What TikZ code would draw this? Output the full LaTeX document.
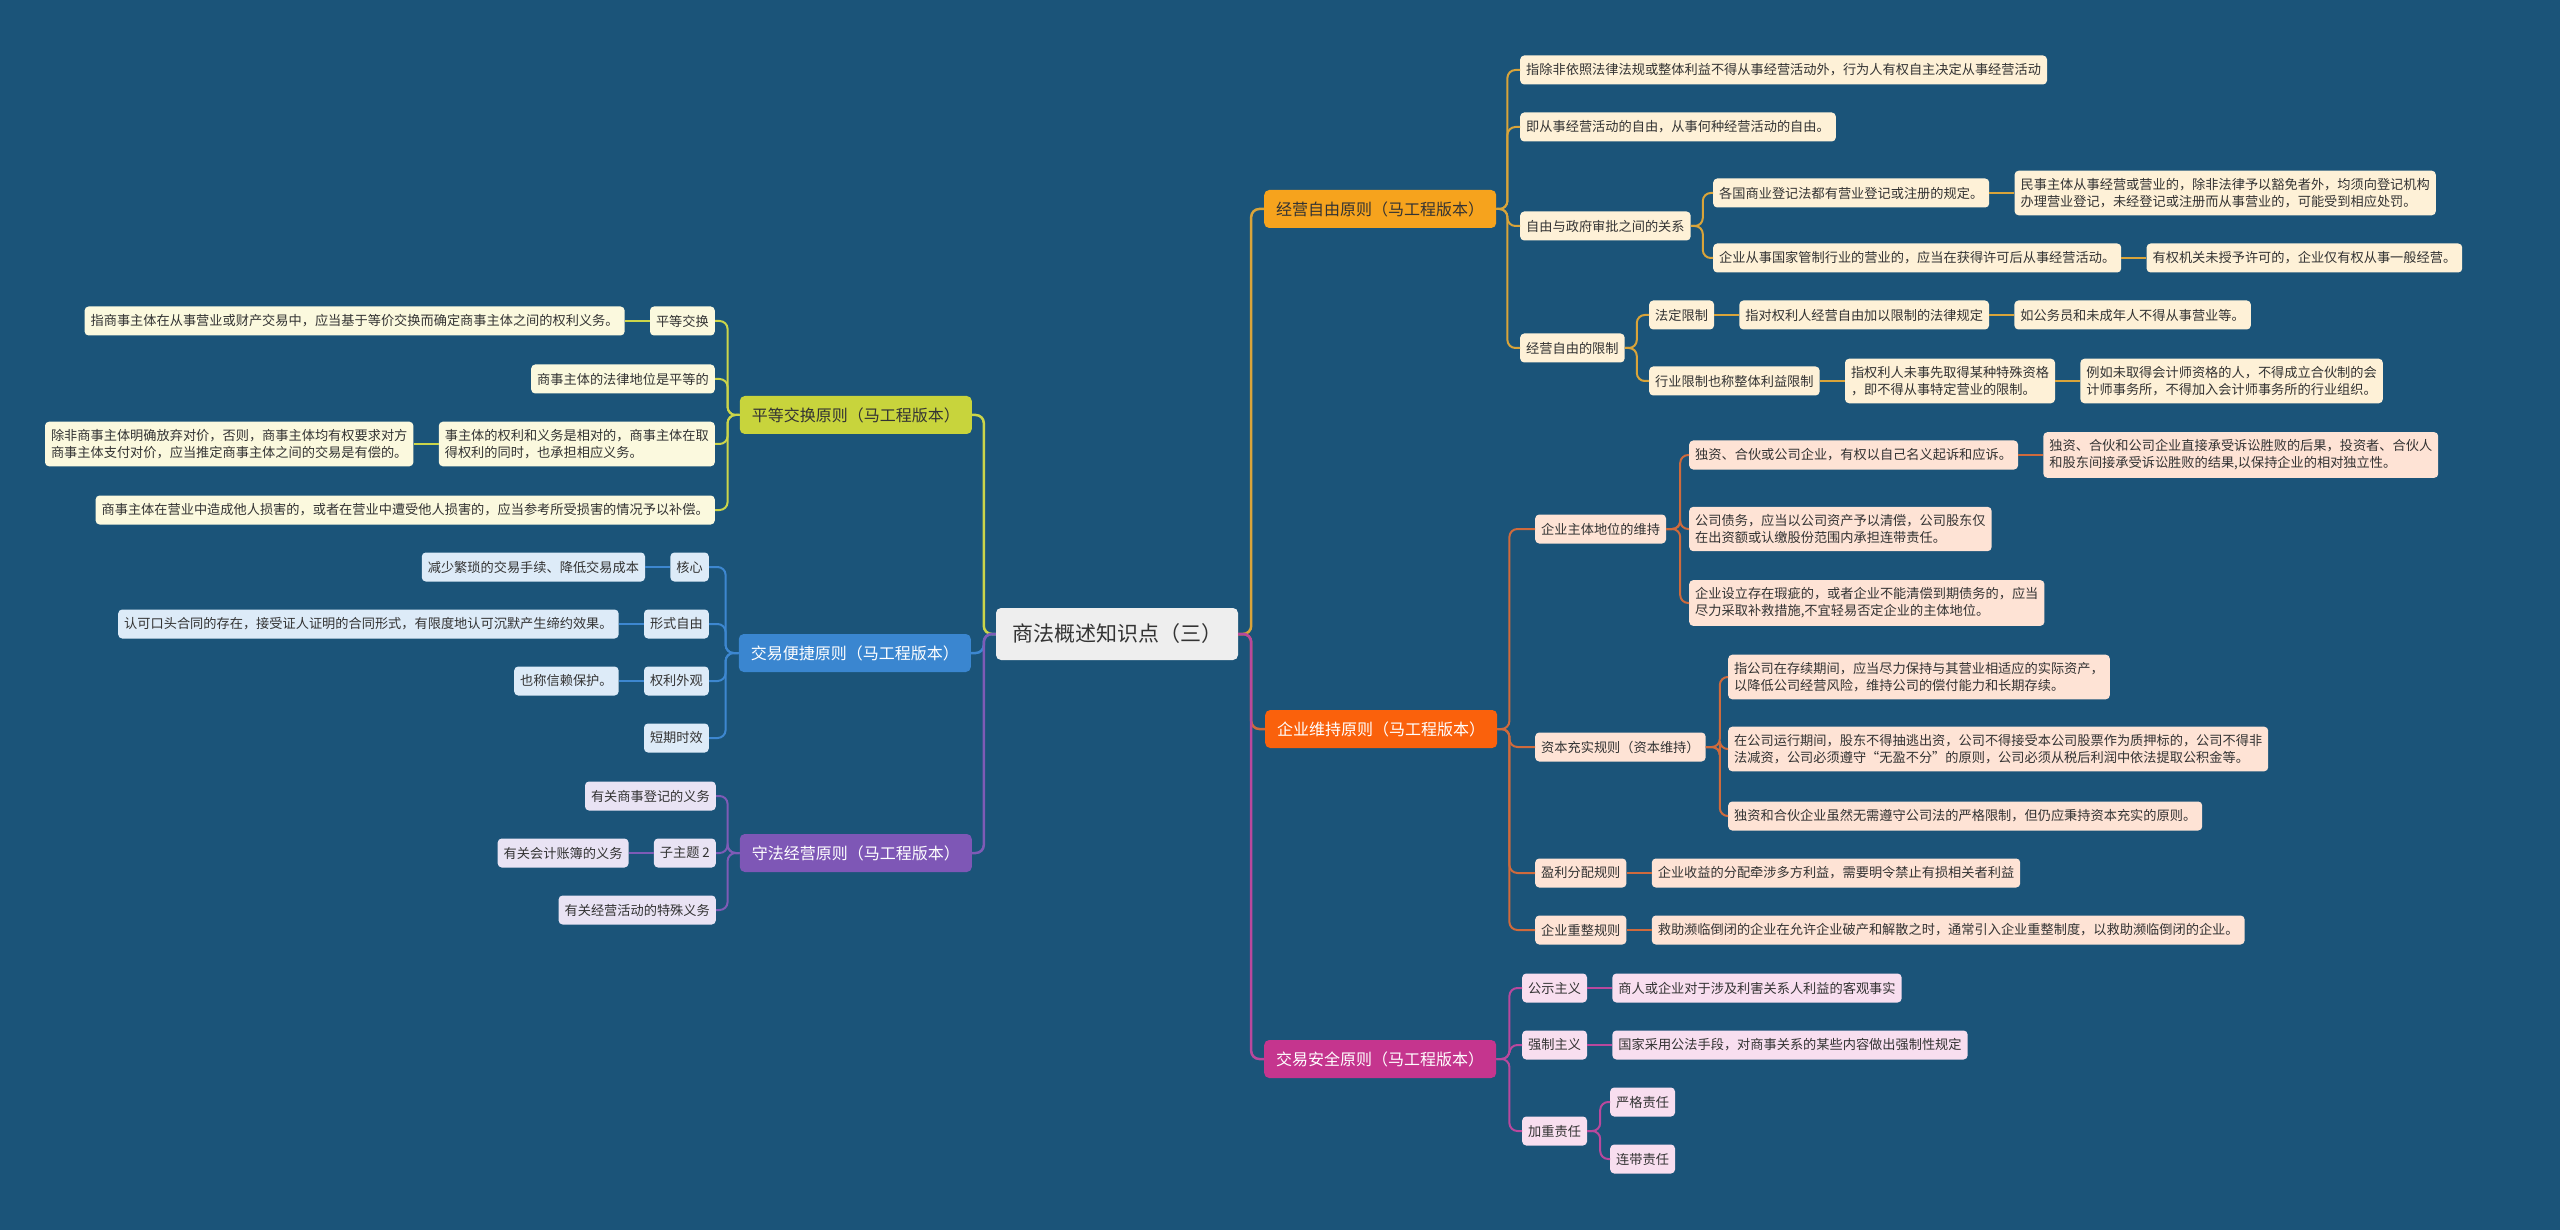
\documentclass[tikz,border=0pt]{standalone}
\usepackage{fontspec}
\setmainfont{Noto Sans CJK SC}
\usetikzlibrary{positioning}

\definecolor{bg}{HTML}{1B5479}
\definecolor{rootfill}{HTML}{EEEEEE}
\definecolor{txt}{HTML}{333333}
\definecolor{pdC}{HTML}{C8D43C}\definecolor{pdL}{HTML}{FBF9DE}\definecolor{pdE}{HTML}{CBD54A}
\definecolor{jbC}{HTML}{3A86D0}\definecolor{jbL}{HTML}{DDEBF8}\definecolor{jbE}{HTML}{3D87D0}
\definecolor{sfC}{HTML}{7E57B6}\definecolor{sfL}{HTML}{E9E3F4}\definecolor{sfE}{HTML}{7E5BB6}
\definecolor{zyC}{HTML}{F6A31D}\definecolor{zyL}{HTML}{FEF1D7}\definecolor{zyE}{HTML}{D9A43A}
\definecolor{wcC}{HTML}{FA610C}\definecolor{wcL}{HTML}{FEE3D5}\definecolor{wcE}{HTML}{CF6A3C}
\definecolor{aqC}{HTML}{C5358E}\definecolor{aqL}{HTML}{F8DEEF}\definecolor{aqE}{HTML}{B9489D}

\newcommand\leaffs{\fontsize{13.2}{17}\selectfont}
\newcommand\mainfs{\fontsize{16}{20}\selectfont}
\newcommand\rootfs{\fontsize{21}{26}\selectfont}

\tikzset{
  topic/.style={rounded corners=5pt, fill=rootfill, text=txt, font=\rootfs, minimum height=52pt, inner xsep=16pt},
  main/.style={rounded corners=5pt, fill=#1, font=\mainfs, minimum height=38pt, inner xsep=12pt, inner ysep=0pt},
  leaf/.style={rounded corners=4pt, fill=#1, text=txt, font=\leaffs, align=left, minimum height=29pt, inner xsep=6pt, inner ysep=7.5pt},
  link/.style={draw=#1, line width=2pt, rounded corners=8pt},
}

\begin{document}
\begin{tikzpicture}[x=1pt, y=-1pt, node distance=25pt]
\fill[bg] (0,0) rectangle (2560,1230);
\useasboundingbox (0,0) rectangle (2560,1230);

% centre
\node[topic] (root) at (1117,634) {商法概述知识点（三）};

% left side
\node[main=pdC, text=txt, anchor=east] (pd) at (972,415) {平等交换原则（马工程版本）};
\node[main=jbC, text=white, anchor=east] (jb) at (971,653) {交易便捷原则（马工程版本）};
\node[main=sfC, text=white, anchor=east] (sf) at (972,853) {守法经营原则（马工程版本）};

\node[leaf=pdL, anchor=east] (pd1) at (715,321) {平等交换};
\node[leaf=pdL, left=of pd1] (pd1a) {指商事主体在从事营业或财产交易中，应当基于等价交换而确定商事主体之间的权利义务。};
\node[leaf=pdL, anchor=east] (pd2) at (715,379) {商事主体的法律地位是平等的};
\node[leaf=pdL, anchor=east] (pd3) at (715,444) {事主体的权利和义务是相对的，商事主体在取\\得权利的同时，也承担相应义务。};
\node[leaf=pdL, left=of pd3] (pd3a) {除非商事主体明确放弃对价，否则，商事主体均有权要求对方\\商事主体支付对价，应当推定商事主体之间的交易是有偿的。};
\node[leaf=pdL, anchor=east] (pd4) at (715,510) {商事主体在营业中造成他人损害的，或者在营业中遭受他人损害的，应当参考所受损害的情况予以补偿。};

\node[leaf=jbL, anchor=east] (jb1) at (709,567) {核心};
\node[leaf=jbL, left=of jb1] (jb1a) {减少繁琐的交易手续、降低交易成本};
\node[leaf=jbL, anchor=east] (jb2) at (709,624) {形式自由};
\node[leaf=jbL, left=of jb2] (jb2a) {认可口头合同的存在，接受证人证明的合同形式，有限度地认可沉默产生缔约效果。};
\node[leaf=jbL, anchor=east] (jb3) at (709,681) {权利外观};
\node[leaf=jbL, left=of jb3] (jb3a) {也称信赖保护。};
\node[leaf=jbL, anchor=east] (jb4) at (709,738) {短期时效};

\node[leaf=sfL, anchor=east] (sf1) at (716,796) {有关商事登记的义务};
\node[leaf=sfL, anchor=east] (sf2) at (716,853) {子主题 2};
\node[leaf=sfL, left=of sf2] (sf2a) {有关会计账簿的义务};
\node[leaf=sfL, anchor=east] (sf3) at (716,910) {有关经营活动的特殊义务};

% right side
\node[main=zyC, text=txt, anchor=west] (zy) at (1264,209) {经营自由原则（马工程版本）};
\node[main=wcC, text=white, anchor=west] (wc) at (1265,729) {企业维持原则（马工程版本）};
\node[main=aqC, text=white, anchor=west] (aq) at (1264,1059) {交易安全原则（马工程版本）};

\node[leaf=zyL, anchor=west] (zy1) at (1520,70) {指除非依照法律法规或整体利益不得从事经营活动外，行为人有权自主决定从事经营活动};
\node[leaf=zyL, anchor=west] (zy2) at (1520,127) {即从事经营活动的自由，从事何种经营活动的自由。};
\node[leaf=zyL, anchor=west] (zy3) at (1520,226) {自由与政府审批之间的关系};
\node[leaf=zyL, anchor=west] (zy31) at (1713,193) {各国商业登记法都有营业登记或注册的规定。};
\node[leaf=zyL, right=of zy31] (zy31a) {民事主体从事经营或营业的，除非法律予以豁免者外，均须向登记机构\\办理营业登记，未经登记或注册而从事营业的，可能受到相应处罚。};
\node[leaf=zyL, anchor=west] (zy32) at (1713,258) {企业从事国家管制行业的营业的，应当在获得许可后从事经营活动。};
\node[leaf=zyL, right=of zy32] (zy32a) {有权机关未授予许可的，企业仅有权从事一般经营。};
\node[leaf=zyL, anchor=west] (zy4) at (1520,348) {经营自由的限制};
\node[leaf=zyL, anchor=west] (zy41) at (1649,315) {法定限制};
\node[leaf=zyL, right=of zy41] (zy41a) {指对权利人经营自由加以限制的法律规定};
\node[leaf=zyL, right=of zy41a] (zy41b) {如公务员和未成年人不得从事营业等。};
\node[leaf=zyL, anchor=west] (zy42) at (1649,381) {行业限制也称整体利益限制};
\node[leaf=zyL, right=of zy42] (zy42a) {指权利人未事先取得某种特殊资格\\，即不得从事特定营业的限制。};
\node[leaf=zyL, right=of zy42a] (zy42b) {例如未取得会计师资格的人，不得成立合伙制的会\\计师事务所，不得加入会计师事务所的行业组织。};

\node[leaf=wcL, anchor=west] (wc1) at (1535,529) {企业主体地位的维持};
\node[leaf=wcL, anchor=west] (wc11) at (1689,455) {独资、合伙或公司企业，有权以自己名义起诉和应诉。};
\node[leaf=wcL, right=of wc11] (wc11a) {独资、合伙和公司企业直接承受诉讼胜败的后果，投资者、合伙人\\和股东间接承受诉讼胜败的结果,以保持企业的相对独立性。};
\node[leaf=wcL, anchor=west] (wc12) at (1689,529) {公司债务，应当以公司资产予以清偿，公司股东仅\\在出资额或认缴股份范围内承担连带责任。};
\node[leaf=wcL, anchor=west] (wc13) at (1689,603) {企业设立存在瑕疵的，或者企业不能清偿到期债务的，应当\\尽力采取补救措施,不宜轻易否定企业的主体地位。};
\node[leaf=wcL, anchor=west] (wc2) at (1535,747) {资本充实规则（资本维持）};
\node[leaf=wcL, anchor=west] (wc21) at (1728,677) {指公司在存续期间，应当尽力保持与其营业相适应的实际资产，\\以降低公司经营风险，维持公司的偿付能力和长期存续。};
\node[leaf=wcL, anchor=west] (wc22) at (1728,749) {在公司运行期间，股东不得抽逃出资，公司不得接受本公司股票作为质押标的，公司不得非\\法减资，公司必须遵守“无盈不分”的原则，公司必须从税后利润中依法提取公积金等。};
\node[leaf=wcL, anchor=west] (wc23) at (1728,816) {独资和合伙企业虽然无需遵守公司法的严格限制，但仍应秉持资本充实的原则。};
\node[leaf=wcL, anchor=west] (wc3) at (1535,873) {盈利分配规则};
\node[leaf=wcL, right=of wc3] (wc3a) {企业收益的分配牵涉多方利益，需要明令禁止有损相关者利益};
\node[leaf=wcL, anchor=west] (wc4) at (1535,930) {企业重整规则};
\node[leaf=wcL, right=of wc4] (wc4a) {救助濒临倒闭的企业在允许企业破产和解散之时，通常引入企业重整制度，以救助濒临倒闭的企业。};

\node[leaf=aqL, anchor=west] (aq1) at (1522,988) {公示主义};
\node[leaf=aqL, right=of aq1] (aq1a) {商人或企业对于涉及利害关系人利益的客观事实};
\node[leaf=aqL, anchor=west] (aq2) at (1522,1045) {强制主义};
\node[leaf=aqL, right=of aq2] (aq2a) {国家采用公法手段，对商事关系的某些内容做出强制性规定};
\node[leaf=aqL, anchor=west] (aq3) at (1522,1131) {加重责任};
\node[leaf=aqL, anchor=west] (aq31) at (1610,1102) {严格责任};
\node[leaf=aqL, anchor=west] (aq32) at (1610,1159) {连带责任};

% connectors from the centre
\draw[link=pdE, line width=2.5pt] (root.west) -- ++(-12,0) |- (pd.east);
\draw[link=jbE, line width=2.5pt] (root.west) -- ++(-12,0) |- (jb.east);
\draw[link=sfE, line width=2.5pt] (root.west) -- ++(-12,0) |- (sf.east);
\draw[link=zyE, line width=2.5pt] (root.east) -- ++(13,0) |- (zy.west);
\draw[link=wcE, line width=2.5pt] (root.east) -- ++(13,0) |- (wc.west);
\draw[link=aqE, line width=2.5pt] (root.east) -- ++(13,0) |- (aq.west);

% left connectors
\foreach \n in {pd1,pd2,pd3,pd4} \draw[link=pdE] (pd.west) -- ++(-12,0) |- (\n.east);
\draw[link=pdE] (pd1.west) -- (pd1a.east);
\draw[link=pdE] (pd3.west) -- (pd3a.east);
\foreach \n in {jb1,jb2,jb3,jb4} \draw[link=jbE] (jb.west) -- ++(-13,0) |- (\n.east);
\draw[link=jbE] (jb1.west) -- (jb1a.east);
\draw[link=jbE] (jb2.west) -- (jb2a.east);
\draw[link=jbE] (jb3.west) -- (jb3a.east);
\foreach \n in {sf1,sf2,sf3} \draw[link=sfE] (sf.west) -- ++(-12,0) |- (\n.east);
\draw[link=sfE] (sf2.west) -- (sf2a.east);

% right connectors
\foreach \n in {zy1,zy2,zy3,zy4} \draw[link=zyE] (zy.east) -- ++(11,0) |- (\n.west);
\foreach \n in {zy31,zy32} \draw[link=zyE] (zy3.east) -- ++(12,0) |- (\n.west);
\foreach \n in {zy41,zy42} \draw[link=zyE] (zy4.east) -- ++(12,0) |- (\n.west);
\draw[link=zyE] (zy31.east) -- (zy31a.west);
\draw[link=zyE] (zy32.east) -- (zy32a.west);
\draw[link=zyE] (zy41.east) -- (zy41a.west);
\draw[link=zyE] (zy41a.east) -- (zy41b.west);
\draw[link=zyE] (zy42.east) -- (zy42a.west);
\draw[link=zyE] (zy42a.east) -- (zy42b.west);

\foreach \n in {wc1,wc2,wc3,wc4} \draw[link=wcE] (wc.east) -- ++(12,0) |- (\n.west);
\foreach \n in {wc11,wc12,wc13} \draw[link=wcE] (wc1.east) -- ++(14,0) |- (\n.west);
\foreach \n in {wc21,wc22,wc23} \draw[link=wcE] (wc2.east) -- ++(14,0) |- (\n.west);
\draw[link=wcE] (wc11.east) -- (wc11a.west);
\draw[link=wcE] (wc3.east) -- (wc3a.west);
\draw[link=wcE] (wc4.east) -- (wc4a.west);

\foreach \n in {aq1,aq2,aq3} \draw[link=aqE] (aq.east) -- ++(13,0) |- (\n.west);
\foreach \n in {aq31,aq32} \draw[link=aqE] (aq3.east) -- ++(13,0) |- (\n.west);
\draw[link=aqE] (aq1.east) -- (aq1a.west);
\draw[link=aqE] (aq2.east) -- (aq2a.west);
\end{tikzpicture}
\end{document}
